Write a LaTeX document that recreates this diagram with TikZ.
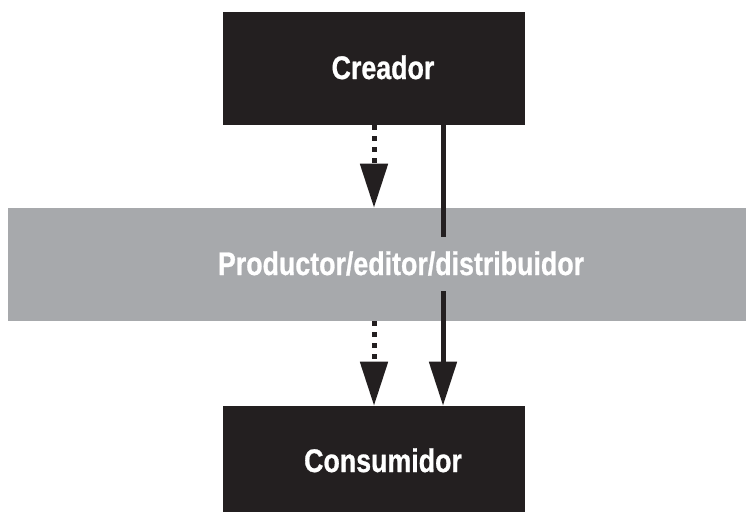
\documentclass[tikz,border=0pt]{standalone}
\usepackage{fontspec}
\setmainfont{Liberation Sans}[FakeStretch=0.82, BoldFeatures={FakeBold=0.8}]
\usetikzlibrary{arrows.meta,calc}
\definecolor{boxblack}{HTML}{231F20}
\definecolor{bandgray}{HTML}{A7A9AC}
\begin{document}
\begin{tikzpicture}[x=0.75pt,y=-0.75pt,
  blackbox/.style={fill=boxblack, draw=none, inner sep=0pt,
    minimum width=226.5pt},
  band/.style={fill=bandgray, draw=none, inner sep=0pt,
    minimum width=553.5pt, minimum height=84.75pt},
  boxlabel/.style={anchor=base, text=white, inner sep=0pt,
    font=\fontsize{24.5pt}{28pt}\selectfont\bfseries},
  flow/.style={draw=boxblack, line width=3.75pt,
    -{Triangle[length=33pt,width=20.25pt]}},
  flowline/.style={draw=boxblack, line width=3.75pt},
  dotted flow/.style={flow, dash pattern=on 3.75pt off 4.5pt}
]
\useasboundingbox (0,0) rectangle (746,512);
\fill[white] (0,0) rectangle (746,512);

% boxes
\node[blackbox, minimum height=84.75pt] (creador) at (374,68.5) {};
\node[band] (prod) at (377,264.5) {};
\node[blackbox, minimum height=79.5pt] (consumidor) at (374,459) {};

% labels
\node[boxlabel] (creadortext) at (383,79) {Creador};
\node[boxlabel] (prodtext) at (401,275) {Productor/editor/distribuidor};
\node[boxlabel] (consumidortext) at (383,472) {Consumidor};

% dotted path through the intermediary
\draw[dotted flow] (creador.south) -- (creador.south |- prod.north);
\draw[dotted flow] (creador.south |- prod.south) -- (consumidor.north);

% direct path, interrupted around the middle label
\coordinate (gaptop) at (443,237);
\coordinate (gapbot) at (443,291);
\draw[flowline] (creador.south -| gaptop) -- (gaptop);
\draw[flow] (gapbot) -- (gapbot |- consumidor.north);
\end{tikzpicture}
\end{document}
